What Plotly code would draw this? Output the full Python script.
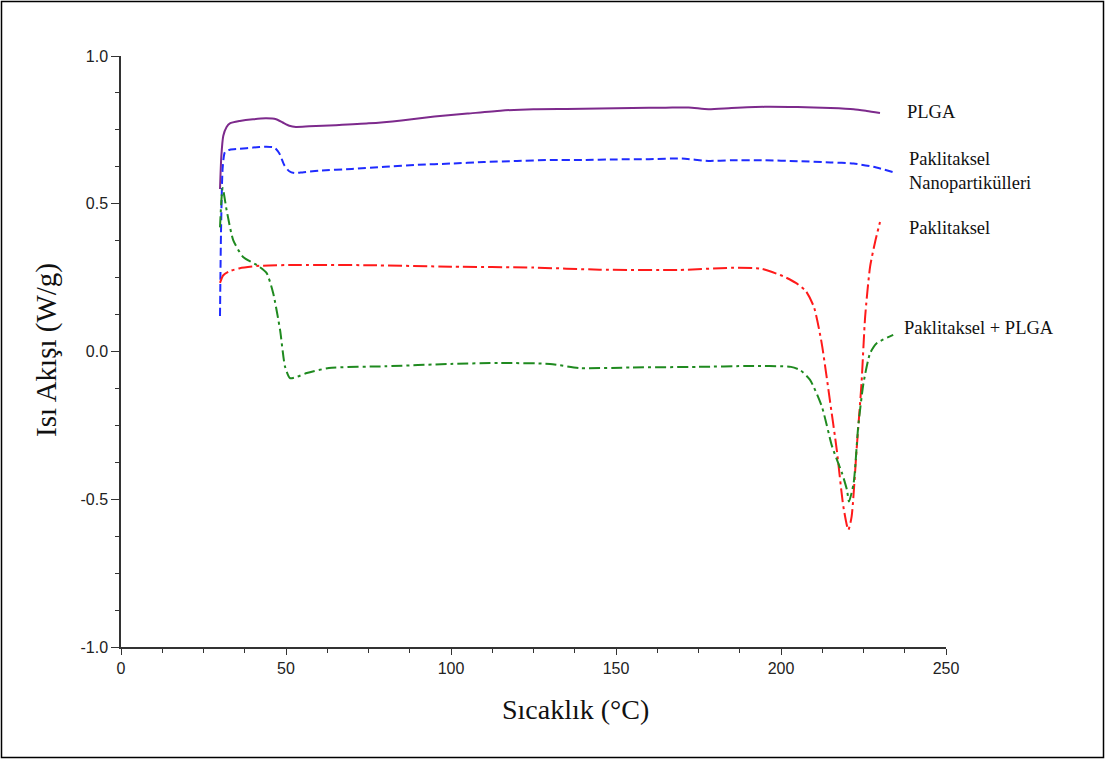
import plotly.graph_objects as go

# ---- data ----
plga_x = [30.0, 30.4, 31.0, 32.0, 33.0, 36.0, 40.0, 44.0, 47.0, 49.0, 51.0, 53.0, 57.0, 65.0, 75.0, 85.0, 95.0, 105.0, 115.0, 125.0, 135.0, 145.0, 155.0, 165.0, 172.0, 178.0, 185.0, 195.0, 205.0, 215.0, 222.0, 226.0, 230.0]
plga_y = [0.55, 0.66, 0.73, 0.76, 0.772, 0.780, 0.786, 0.789, 0.786, 0.775, 0.764, 0.760, 0.762, 0.766, 0.772, 0.782, 0.795, 0.805, 0.815, 0.820, 0.821, 0.822, 0.824, 0.825, 0.826, 0.820, 0.824, 0.828, 0.827, 0.824, 0.820, 0.814, 0.807]

nano_x = [30.0, 30.3, 30.8, 31.5, 33.0, 36.0, 40.0, 44.0, 46.5, 48.0, 49.5, 51.0, 52.5, 55.0, 60.0, 70.0, 80.0, 90.0, 100.0, 110.0, 120.0, 130.0, 140.0, 150.0, 160.0, 170.0, 178.0, 185.0, 195.0, 205.0, 215.0, 222.0, 228.0, 234.0]
nano_y = [0.12, 0.40, 0.62, 0.675, 0.683, 0.686, 0.690, 0.693, 0.690, 0.670, 0.630, 0.610, 0.604, 0.606, 0.612, 0.618, 0.625, 0.632, 0.636, 0.641, 0.645, 0.648, 0.648, 0.650, 0.651, 0.653, 0.645, 0.647, 0.647, 0.644, 0.640, 0.636, 0.625, 0.607]

pac_x = [30.0, 31.0, 33.0, 36.0, 42.0, 54.0, 75.0, 100.0, 125.0, 145.0, 169.0, 185.0, 194.0, 200.6, 204.5, 207.5, 210.0, 212.3, 214.8, 216.9, 218.9, 220.4, 221.4, 222.9, 224.4, 225.5, 227.0, 228.5, 230.0]
pac_y = [0.232, 0.258, 0.272, 0.282, 0.290, 0.293, 0.292, 0.287, 0.284, 0.277, 0.276, 0.283, 0.280, 0.255, 0.232, 0.205, 0.150, 0.030, -0.164, -0.333, -0.525, -0.604, -0.559, -0.333, -0.107, 0.118, 0.287, 0.370, 0.438]

mix_x = [30.0, 30.8, 32.0, 34.0, 37.0, 41.1, 44.1, 46.1, 48.2, 49.7, 51.2, 53.5, 56.3, 63.0, 80.0, 100.0, 115.0, 130.0, 139.0, 155.0, 175.0, 190.6, 203.0, 205.8, 208.8, 212.4, 215.5, 218.5, 220.0, 220.6, 222.0, 223.4, 225.0, 227.0, 229.0, 234.0]
mix_y = [0.42, 0.553, 0.479, 0.377, 0.320, 0.293, 0.266, 0.198, 0.073, -0.051, -0.090, -0.085, -0.073, -0.056, -0.050, -0.042, -0.039, -0.042, -0.056, -0.054, -0.052, -0.049, -0.052, -0.063, -0.096, -0.187, -0.322, -0.412, -0.469, -0.508, -0.446, -0.254, -0.107, -0.006, 0.028, 0.056]

series_names = ["PLGA", "Paklitaksel<br>Nanopartikülleri", "Paklitaksel", "Paklitaksel + PLGA"]
x_ticks = [0, 50, 100, 150, 200, 250]
y_ticks = [-1.0, -0.5, 0.0, 0.5, 1.0]
y_tick_text = ["-1.0", "-0.5", "0.0", "0.5", "1.0"]

fig = go.Figure()
fig.add_trace(go.Scatter(x=plga_x, y=plga_y, mode="lines", line=dict(color="#7d2a8c", width=2, shape="spline", smoothing=0.6), name=series_names[0]))
fig.add_trace(go.Scatter(x=nano_x, y=nano_y, mode="lines", line=dict(color="#1f2bff", width=2, dash="8px,4px", shape="spline", smoothing=0.6), name=series_names[1]))
fig.add_trace(go.Scatter(x=pac_x, y=pac_y, mode="lines", line=dict(color="#ff1a1a", width=2, dash="14px,4px,3px,4px", shape="spline", smoothing=0.6), name=series_names[2]))
fig.add_trace(go.Scatter(x=mix_x, y=mix_y, mode="lines", line=dict(color="#1f8a1f", width=2, dash="11px,4px,3px,4px", shape="spline", smoothing=0.6), name=series_names[3]))

# geometry of plot area in pixels
W, H = 1105, 760
L, R, T, B = 121, 946, 56, 647
pw, ph = R - L, B - T

def px2paper(px, py):
    return (px - L) / pw, (B - py) / ph

label_pos = [(905, 112), (907, 171), (907, 228), (902, 328)]
for name, (lx, ly) in zip(series_names, label_pos):
    ax_, ay_ = px2paper(lx, ly)
    fig.add_annotation(x=ax_, y=ay_, xref="paper", yref="paper", text=name, showarrow=False,
                       xanchor="left", yanchor="middle", align="left",
                       font=dict(family="Liberation Serif, Times New Roman, serif", size=18.5, color="#111"))

# axis titles
tx, ty = px2paper(575, 709)
fig.add_annotation(x=tx, y=ty, xref="paper", yref="paper", text="Sıcaklık (°C)", showarrow=False,
                   xanchor="center", yanchor="middle",
                   font=dict(family="Liberation Serif, Times New Roman, serif", size=28, color="#111"))
tx, ty = px2paper(46, 350)
fig.add_annotation(x=tx, y=ty, xref="paper", yref="paper", text="Isı Akışı (W/g)", showarrow=False,
                   textangle=-90, xanchor="center", yanchor="middle",
                   font=dict(family="Liberation Serif, Times New Roman, serif", size=29, color="#111"))

# outer frame
x0, y0 = px2paper(1.5, 757.5)
x1, y1 = px2paper(1103.5, 1.5)
fig.add_shape(type="rect", xref="paper", yref="paper", x0=x0, y0=y0, x1=x1, y1=y1,
              line=dict(color="black", width=1.5))

tick_font = dict(family="Liberation Sans, Arial, sans-serif", size=16, color="#222")
fig.update_layout(
    width=W, height=H,
    margin=dict(l=L, r=W - R, t=T, b=H - B),
    paper_bgcolor="white", plot_bgcolor="white",
    showlegend=False,
    font=tick_font,
)
fig.update_xaxes(range=[0, 250], tickvals=x_ticks, ticks="outside", ticklen=6, tickwidth=1.3,
                 tickcolor="#333", showline=True, linecolor="#333", linewidth=1.5, tickfont=tick_font,
                 showgrid=False, zeroline=False, fixedrange=True, ticklabelstandoff=0,
                 minor=dict(dtick=12.5, ticks="outside", ticklen=4, tickcolor="#333", tickwidth=1.2, showgrid=False))
fig.update_yaxes(range=[-1.0, 1.0], tickvals=y_ticks, ticktext=y_tick_text, ticks="outside", ticklen=8, tickwidth=1.3,
                 tickcolor="#333", showline=True, linecolor="#333", linewidth=1.5, tickfont=tick_font,
                 showgrid=False, zeroline=False, fixedrange=True,
                 minor=dict(dtick=0.125, tick0=0, ticks="outside", ticklen=4, tickcolor="#333", tickwidth=1.2, showgrid=False))

fig.write_html("out.html")
